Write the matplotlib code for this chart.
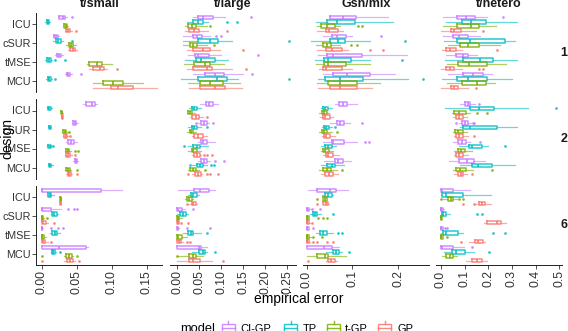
import matplotlib
matplotlib.use('Agg')
import matplotlib.pyplot as plt
from matplotlib.patches import Rectangle
from matplotlib.lines import Line2D

plt.rcParams['font.family'] = ['Liberation Sans', 'DejaVu Sans']

designs = ['ICU', 'cSUR', 'tMSE', 'MCU']
models = ['CI-GP', 'TP', 't-GP', 'GP']
model_colors = ['#C77CFF', '#00BFC4', '#7CAE00', '#F8766D']
columns = ['t/small', 't/large', 'Gsn/mix', 't/hetero']
rows = ['1', '2', '6']

# each row: [whisker low, q1, median, q3, whisker high]; order: design (ICU,cSUR,tMSE,MCU) x model (CI-GP,TP,t-GP,GP)
small_1 = [[0.0233, 0.0251, 0.030, 0.0333, 0.036], [0.0054, 0.0069, 0.0086, 0.0104, 0.0119],
           [0.030, 0.032, 0.0343, 0.036, 0.038], [0.033, 0.0354, 0.038, 0.0404, 0.043],
           [0.016, 0.0176, 0.0204, 0.0233, 0.0254], [0.016, 0.0204, 0.0237, 0.0276, 0.0304],
           [0.0347, 0.039, 0.0419, 0.0447, 0.049], [0.0376, 0.0404, 0.0443, 0.0476, 0.0504],
           [0.019, 0.0219, 0.0251, 0.0276, 0.0304], [0.0054, 0.0076, 0.0104, 0.0133, 0.0147],
           [0.0647, 0.0676, 0.0786, 0.086, 0.1004], [0.0676, 0.0733, 0.0833, 0.089, 0.0933],
           [0.034, 0.0361, 0.038, 0.0404, 0.0426], [0.0061, 0.0083, 0.0104, 0.0133, 0.0147],
           [0.0729, 0.0871, 0.1023, 0.1166, 0.1451], [0.0729, 0.099, 0.1094, 0.1309, 0.1643]]
small_1_out = [[0.043], [], [], [0.049], [], [0.043], [], [],
               [], [0.019, 0.0333], [], [0.1076], [0.0557], [0.019], [], []]

small_2 = [[0.059, 0.0633, 0.0714, 0.0761, 0.079], [0.0069, 0.009, 0.0109, 0.0126, 0.0147],
           [0.0269, 0.0276, 0.0286, 0.0297, 0.0304], [0.0276, 0.0283, 0.0294, 0.0304, 0.0311],
           [0.0433, 0.0454, 0.0476, 0.0497, 0.0519], [0.0097, 0.0104, 0.0119, 0.0133, 0.014],
           [0.029, 0.0311, 0.0333, 0.0354, 0.0376], [0.0304, 0.0319, 0.0343, 0.0361, 0.0383],
           [0.0347, 0.0376, 0.0419, 0.0461, 0.0504], [0.0076, 0.0097, 0.0119, 0.0133, 0.0147],
           [0.0326, 0.0347, 0.0371, 0.0397, 0.0419], [0.0333, 0.0354, 0.038, 0.0404, 0.0433],
           [0.0454, 0.0469, 0.0486, 0.0504, 0.0519], [0.009, 0.0104, 0.0119, 0.014, 0.0161],
           [0.0333, 0.0354, 0.038, 0.0404, 0.0419], [0.0347, 0.0369, 0.0394, 0.0419, 0.044]]
small_2_out = [[], [], [], [], [], [], [0.0397], [0.0404],
               [], [0.0166], [0.0476, 0.0514], [0.0476], [], [], [0.0509], [0.05]]

small_6 = [[0.0, 0.0, 0.0005, 0.0851, 0.1143], [0.0076, 0.0097, 0.0119, 0.014, 0.0169],
           [0.0264, 0.0266, 0.0271, 0.0276, 0.0279], [0.0264, 0.0266, 0.0271, 0.0276, 0.0279],
           [0.0, 0.0, 0.0005, 0.0129, 0.0276], [0.0126, 0.0147, 0.018, 0.0219, 0.024],
           [0.0, 0.0, 0.0005, 0.0015, 0.003], [0.0, 0.0, 0.002, 0.0061, 0.009],
           [0.0, 0.0, 0.0002, 0.001, 0.002], [0.0119, 0.0147, 0.019, 0.0219, 0.0261],
           [0.0, 0.0, 0.001, 0.003, 0.006], [0.0, 0.0, 0.002, 0.005, 0.009],
           [0.0, 0.0, 0.0251, 0.0633, 0.0657], [0.0133, 0.0147, 0.0166, 0.019, 0.0204],
           [0.0319, 0.0347, 0.0383, 0.0429, 0.0447], [0.0319, 0.0357, 0.040, 0.0451, 0.0476]]
small_6_out = [[], [], [], [], [0.038, 0.046, 0.0509], [], [0.007], [0.017],
               [0.014, 0.023, 0.030], [], [], [0.014], [], [0.0261], [0.0, 0.05], [0.0, 0.053]]

large_1 = [[0.035, 0.048, 0.059, 0.082, 0.108], [0.023, 0.036, 0.048, 0.059, 0.070],
           [0.0175, 0.025, 0.033, 0.0425, 0.067], [0.0175, 0.027, 0.039, 0.050, 0.070],
           [0.014, 0.036, 0.045, 0.057, 0.074], [0.014, 0.048, 0.074, 0.093, 0.124],
           [0.012, 0.030, 0.036, 0.044, 0.067], [0.021, 0.036, 0.059, 0.074, 0.097],
           [0.025, 0.040, 0.048, 0.073, 0.100], [0.0175, 0.0425, 0.053, 0.0857, 0.116],
           [0.015, 0.038, 0.063, 0.074, 0.105], [0.021, 0.036, 0.067, 0.078, 0.124],
           [0.036, 0.063, 0.086, 0.106, 0.150], [0.0077, 0.048, 0.0895, 0.112, 0.139],
           [0.025, 0.0516, 0.074, 0.1045, 0.1425], [0.027, 0.0516, 0.086, 0.108, 0.146]]
large_1_out = [[0.1675], [0.114, 0.135], [0.074], [0.114], [0.088, 0.100], [0.2545], [0.083], [0.150],
               [0.184], [], [], [0.156], [0.169], [0.2545], [], []]

large_2 = [[0.0516, 0.065, 0.073, 0.080, 0.093], [0.027, 0.033, 0.038, 0.044, 0.055],
           [0.021, 0.025, 0.029, 0.034, 0.040], [0.029, 0.034, 0.042, 0.049, 0.058],
           [0.048, 0.055, 0.061, 0.067, 0.073], [0.025, 0.033, 0.039, 0.045, 0.055],
           [0.021, 0.029, 0.032, 0.036, 0.0425], [0.033, 0.039, 0.048, 0.058, 0.067],
           [0.048, 0.054, 0.059, 0.067, 0.086], [0.025, 0.036, 0.044, 0.0516, 0.070],
           [0.025, 0.033, 0.036, 0.044, 0.055], [0.033, 0.038, 0.044, 0.0516, 0.055],
           [0.048, 0.055, 0.061, 0.067, 0.074], [0.033, 0.045, 0.0516, 0.058, 0.067],
           [0.025, 0.030, 0.036, 0.0425, 0.050], [0.033, 0.040, 0.046, 0.054, 0.056]]
large_2_out = [[], [], [], [0.067], [0.0425, 0.080], [0.067], [], [],
               [], [0.015], [], [0.061, 0.068, 0.078], [0.086, 0.106], [0.029, 0.076, 0.084],
               [0.063], [0.0236, 0.067, 0.074, 0.093]]

large_6 = [[0.0023, 0.039, 0.0516, 0.073, 0.086], [0.025, 0.031, 0.036, 0.044, 0.050],
           [0.0175, 0.021, 0.027, 0.033, 0.035], [0.027, 0.033, 0.036, 0.042, 0.045],
           [0.0, 0.0, 0.002, 0.010, 0.0175], [0.0, 0.006, 0.012, 0.020, 0.025],
           [0.0, 0.0, 0.001, 0.0045, 0.010], [0.0, 0.0, 0.001, 0.003, 0.005],
           [0.0, 0.0, 0.0005, 0.002, 0.004], [0.0136, 0.025, 0.031, 0.036, 0.055],
           [0.0, 0.0, 0.002, 0.010, 0.021], [0.0, 0.0, 0.003, 0.0086, 0.013],
           [0.0, 0.0, 0.050, 0.055, 0.067], [0.033, 0.050, 0.058, 0.063, 0.067],
           [0.0023, 0.027, 0.035, 0.0425, 0.059], [0.0, 0.027, 0.036, 0.0516, 0.078]]
large_6_out = [[], [], [], [0.021], [0.036], [], [], [0.0077, 0.0236],
               [0.021, 0.074], [0.067], [], [0.021, 0.030], [], [0.086], [0.0], [0.103]]

gsn_1 = [[0.048, 0.051, 0.080, 0.108, 0.178], [0.0203, 0.0437, 0.0655, 0.1055, 0.189],
         [0.023, 0.0306, 0.045, 0.0618, 0.0727], [0.022, 0.042, 0.049, 0.069, 0.080],
         [0.035, 0.0546, 0.0655, 0.0858, 0.098], [0.0087, 0.051, 0.069, 0.0836, 0.138],
         [0.0203, 0.036, 0.0437, 0.052, 0.0727], [0.022, 0.042, 0.0546, 0.0764, 0.091],
         [0.025, 0.045, 0.0568, 0.120, 0.218], [0.018, 0.0385, 0.047, 0.0967, 0.138],
         [0.0203, 0.0385, 0.047, 0.0858, 0.138], [0.0276, 0.035, 0.042, 0.0764, 0.098],
         [0.035, 0.058, 0.0887, 0.138, 0.193], [0.025, 0.040, 0.0727, 0.1237, 0.222],
         [0.022, 0.047, 0.0727, 0.109, 0.160], [0.025, 0.051, 0.0727, 0.109, 0.142]]
gsn_1_out = [[], [], [0.111, 0.120], [], [0.1616], [0.2146], [0.096, 0.109], [0.138, 0.167],
             [], [0.2074], [], [], [], [0.253], [], []]

gsn_2 = [[0.062, 0.071, 0.080, 0.0887, 0.109], [0.0306, 0.036, 0.040, 0.047, 0.0546],
         [0.0275, 0.033, 0.038, 0.0437, 0.049], [0.029, 0.036, 0.040, 0.051, 0.058],
         [0.051, 0.0655, 0.0727, 0.0815, 0.0946], [0.033, 0.0385, 0.042, 0.049, 0.0546],
         [0.0276, 0.033, 0.038, 0.045, 0.0546], [0.033, 0.0385, 0.042, 0.051, 0.062],
         [0.035, 0.0546, 0.058, 0.0815, 0.109], [0.0306, 0.040, 0.047, 0.0546, 0.064],
         [0.0306, 0.036, 0.040, 0.049, 0.0568], [0.035, 0.042, 0.047, 0.0568, 0.071],
         [0.0385, 0.062, 0.069, 0.0786, 0.096], [0.0306, 0.045, 0.0546, 0.062, 0.0815],
         [0.0276, 0.036, 0.045, 0.053, 0.0655], [0.0306, 0.040, 0.049, 0.058, 0.069]]
gsn_2_out = [[], [], [], [], [0.120], [0.062], [0.0655], [],
             [0.127, 0.136], [], [], [], [], [], [0.0764], []]

gsn_6 = [[0.0035, 0.023, 0.051, 0.064, 0.091], [0.033, 0.040, 0.047, 0.0546, 0.058],
         [0.036, 0.036, 0.040, 0.045, 0.045], [0.035, 0.036, 0.042, 0.047, 0.049],
         [0.0, 0.0, 0.001, 0.006, 0.008], [0.007, 0.013, 0.018, 0.022, 0.0306],
         [0.0, 0.0, 0.001, 0.004, 0.006], [0.0, 0.0, 0.001, 0.005, 0.008],
         [0.0, 0.0, 0.001, 0.004, 0.006], [0.0203, 0.029, 0.035, 0.0437, 0.058],
         [0.0, 0.0, 0.001, 0.006, 0.009], [0.0, 0.0, 0.001, 0.005, 0.008],
         [0.001, 0.001, 0.0385, 0.0546, 0.071], [0.042, 0.058, 0.064, 0.071, 0.0764],
         [0.0013, 0.023, 0.040, 0.047, 0.0858], [0.042, 0.047, 0.053, 0.062, 0.067]]
gsn_6_out = [[], [], [0.023], [0.023], [0.011, 0.029], [0.058], [0.025, 0.036, 0.045], [0.011],
             [0.013], [0.069, 0.0764], [0.0145, 0.033], [0.013, 0.022, 0.0437, 0.058],
             [], [0.093], [], [0.0035]]

het_1 = [[0.010, 0.066, 0.106, 0.144, 0.193], [0.021, 0.0875, 0.127, 0.190, 0.320],
         [0.007, 0.066, 0.1254, 0.162, 0.232], [0.0, 0.041, 0.056, 0.0845, 0.150],
         [0.007, 0.052, 0.077, 0.115, 0.165], [0.0127, 0.066, 0.1226, 0.2705, 0.313],
         [0.031, 0.080, 0.1155, 0.162, 0.249], [0.003, 0.021, 0.038, 0.063, 0.0875],
         [0.021, 0.063, 0.0916, 0.115, 0.151], [0.017, 0.0916, 0.165, 0.221, 0.3226],
         [0.024, 0.073, 0.1196, 0.193, 0.275], [0.0, 0.021, 0.038, 0.056, 0.0875],
         [0.031, 0.094, 0.1366, 0.176, 0.214], [0.003, 0.066, 0.1155, 0.193, 0.299],
         [0.024, 0.0875, 0.151, 0.190, 0.228], [0.0, 0.041, 0.056, 0.073, 0.1155]]
het_1_out = [[0.261], [], [], [0.179], [], [], [], [0.2353],
             [], [], [], [0.162, 0.179], [], [], [], [0.148]]

het_2 = [[0.080, 0.101, 0.113, 0.1226, 0.144], [0.017, 0.1226, 0.162, 0.224, 0.369],
         [0.045, 0.056, 0.077, 0.1057, 0.1226], [0.052, 0.063, 0.077, 0.0916, 0.1085],
         [0.075, 0.0875, 0.101, 0.113, 0.125], [0.080, 0.094, 0.1226, 0.235, 0.320],
         [0.0494, 0.059, 0.073, 0.094, 0.1085], [0.055, 0.063, 0.077, 0.0916, 0.1155],
         [0.0494, 0.073, 0.0875, 0.1057, 0.1226], [0.077, 0.1196, 0.130, 0.172, 0.200],
         [0.055, 0.073, 0.083, 0.101, 0.130], [0.055, 0.063, 0.077, 0.094, 0.1155],
         [0.035, 0.077, 0.1085, 0.139, 0.186], [0.080, 0.130, 0.158, 0.214, 0.313],
         [0.0494, 0.063, 0.080, 0.1057, 0.1366], [0.055, 0.073, 0.083, 0.094, 0.111]]
het_2_out = [[0.162], [0.486], [0.153, 0.193], [], [0.063, 0.136, 0.139], [], [], [0.139],
             [0.165], [0.2705], [], [], [], [], [0.214], [0.130]]

het_6 = [[0.0, 0.0, 0.003, 0.0494, 0.1226], [0.0, 0.003, 0.021, 0.094, 0.210],
         [0.010, 0.031, 0.041, 0.0494, 0.066], [0.144, 0.162, 0.172, 0.186, 0.210],
         [0.0, 0.0, 0.002, 0.010, 0.012], [0.0, 0.003, 0.010, 0.021, 0.038],
         [0.0, 0.0, 0.001, 0.005, 0.006], [0.183, 0.193, 0.2353, 0.2536, 0.275],
         [0.0, 0.0, 0.002, 0.008, 0.010], [0.0, 0.010, 0.021, 0.073, 0.094],
         [0.0, 0.0, 0.002, 0.007, 0.008], [0.1196, 0.144, 0.158, 0.176, 0.186],
         [0.0, 0.0, 0.003, 0.0494, 0.097], [0.0127, 0.045, 0.063, 0.101, 0.139],
         [0.003, 0.021, 0.038, 0.0494, 0.066], [0.1057, 0.130, 0.151, 0.172, 0.193]]
het_6_out = [[], [], [0.0, 0.077, 0.094], [0.0916, 0.139], [], [0.151, 0.172], [], [],
             [0.017, 0.027], [0.218, 0.2705], [0.024], [0.083], [0.130], [0.203], [], []]

x_ticks = [[0.0, 0.05, 0.10, 0.15], [0.0, 0.05, 0.10, 0.15, 0.20, 0.25],
           [0.0, 0.1, 0.2], [0.0, 0.1, 0.2, 0.3, 0.4, 0.5]]
x_tick_labels = [['0.00', '0.05', '0.10', '0.15'], ['0.00', '0.05', '0.10', '0.15', '0.20', '0.25'],
                 ['0.0', '0.1', '0.2'], ['0.0', '0.1', '0.2', '0.3', '0.4', '0.5']]

panels = {
    (0, 0): (small_1, small_1_out), (0, 1): (small_2, small_2_out), (0, 2): (small_6, small_6_out),
    (1, 0): (large_1, large_1_out), (1, 1): (large_2, large_2_out), (1, 2): (large_6, large_6_out),
    (2, 0): (gsn_1, gsn_1_out), (2, 1): (gsn_2, gsn_2_out), (2, 2): (gsn_6, gsn_6_out),
    (3, 0): (het_1, het_1_out), (3, 1): (het_2, het_2_out), (3, 2): (het_6, het_6_out),
}

# ---------- layout (pixels) ----------
W, H = 568, 331
fig = plt.figure(figsize=(W / 100, H / 100), dpi=100)
col_px = [(36.3, 162.25), (169.55, 295.5), (302.8, 428.75), (436.05, 562.0)]
row_px = [(12.6, 92.4), (99.1, 178.9), (185.6, 265.4)]
xlims = [(-0.0077, 0.1722), (-0.0176, 0.2686), (-0.0085, 0.2665), (-0.0209, 0.5114)]
dodge = 0.23
box_h = 0.19
tick_col = '#333333'


def fx(x):
    return x / W


def fy(y):
    return 1 - y / H


for c in range(4):
    for r in range(3):
        x0, x1 = col_px[c]
        y0, y1 = row_px[r]
        ax = fig.add_axes([fx(x0), fy(y1), (x1 - x0) / W, (y1 - y0) / H])
        ax.set_facecolor('none')
        stats_arr, outs = panels[(c, r)]
        for m in range(4):
            col = model_colors[m]
            st = []
            pos = []
            for d in range(4):
                lo, q1, med, q3, hi = stats_arr[d * 4 + m]
                st.append(dict(whislo=lo, q1=q1, med=med, q3=q3, whishi=hi,
                               fliers=outs[d * 4 + m]))
                pos.append(d + (m - 1.5) * dodge)
            ax.bxp(st, positions=pos, widths=box_h, orientation='horizontal',
                   showcaps=False, manage_ticks=False,
                   boxprops=dict(color=col, lw=1.1, alpha=0.85),
                   whiskerprops=dict(color=col, lw=0.9, alpha=0.6),
                   medianprops=dict(color=col, lw=1.2, alpha=0.95),
                   flierprops=dict(marker='o', markersize=1.9, markerfacecolor=col,
                                   markeredgecolor='none', alpha=0.9))
        ax.set_xlim(*xlims[c])
        ax.set_ylim(3.6, -0.6)
        for s in ['top', 'right']:
            ax.spines[s].set_visible(False)
        ax.spines['left'].set_visible(c == 0)
        ax.spines['bottom'].set_visible(r == 2)
        for s in ['left', 'bottom']:
            ax.spines[s].set_linewidth(0.7)
            ax.spines[s].set_color('#222222')
        if c == 0:
            ax.set_yticks(range(4))
            ax.set_yticklabels(designs)
            ax.tick_params(axis='y', length=2.6, width=0.6, color=tick_col, pad=1.2,
                           labelsize=7.8, labelcolor='#333333')
        else:
            ax.set_yticks([])
        if r == 2:
            ax.set_xticks(x_ticks[c])
            ax.set_xticklabels(x_tick_labels[c], rotation=90)
            ax.tick_params(axis='x', length=2.6, width=0.6, color=tick_col, pad=1.0,
                           labelsize=8.8, labelcolor='#333333')
        else:
            ax.set_xticks([])

# strip labels
for c in range(4):
    cx = (col_px[c][0] + col_px[c][1]) / 2
    fig.text(fx(cx), fy(7), columns[c], ha='center', va='baseline',
             fontsize=9, fontweight='bold', color='#1A1A1A')
for r in range(3):
    cy = (row_px[r][0] + row_px[r][1]) / 2
    fig.text(fx(564), fy(cy), rows[r], ha='center', va='center',
             fontsize=9, fontweight='bold', color='#1A1A1A')

# axis titles
fig.text(fx(298.3), fy(299), 'empirical error', ha='center', va='center', fontsize=10)
fig.text(fx(7), fy(139), 'design', ha='center', va='center', rotation=90, fontsize=10)

# legend
fig.text(fx(180), fy(329), 'model', ha='left', va='center', fontsize=9.3)
key_left = [221.7, 284.0, 327.0, 378.0]
label_left = [240.0, 303.0, 345.0, 397.0]
for i in range(4):
    col = model_colors[i]
    kx = key_left[i]
    fig.add_artist(Rectangle((fx(kx), fy(332.6)), 13 / W, 8.6 / H, transform=fig.transFigure,
                             fill=False, edgecolor=col, lw=1.0, alpha=0.85))
    fig.add_artist(Line2D([fx(kx), fx(kx + 13)], [fy(328.3), fy(328.3)],
                          transform=fig.transFigure, color=col, lw=1.0, alpha=0.85))
    fig.add_artist(Line2D([fx(kx + 6.5), fx(kx + 6.5)], [fy(321.4), fy(324)],
                          transform=fig.transFigure, color=col, lw=1.0, alpha=0.85))
    fig.text(fx(label_left[i]), fy(329), models[i], ha='left', va='center', fontsize=8)

fig.savefig('out.png', dpi=100)
